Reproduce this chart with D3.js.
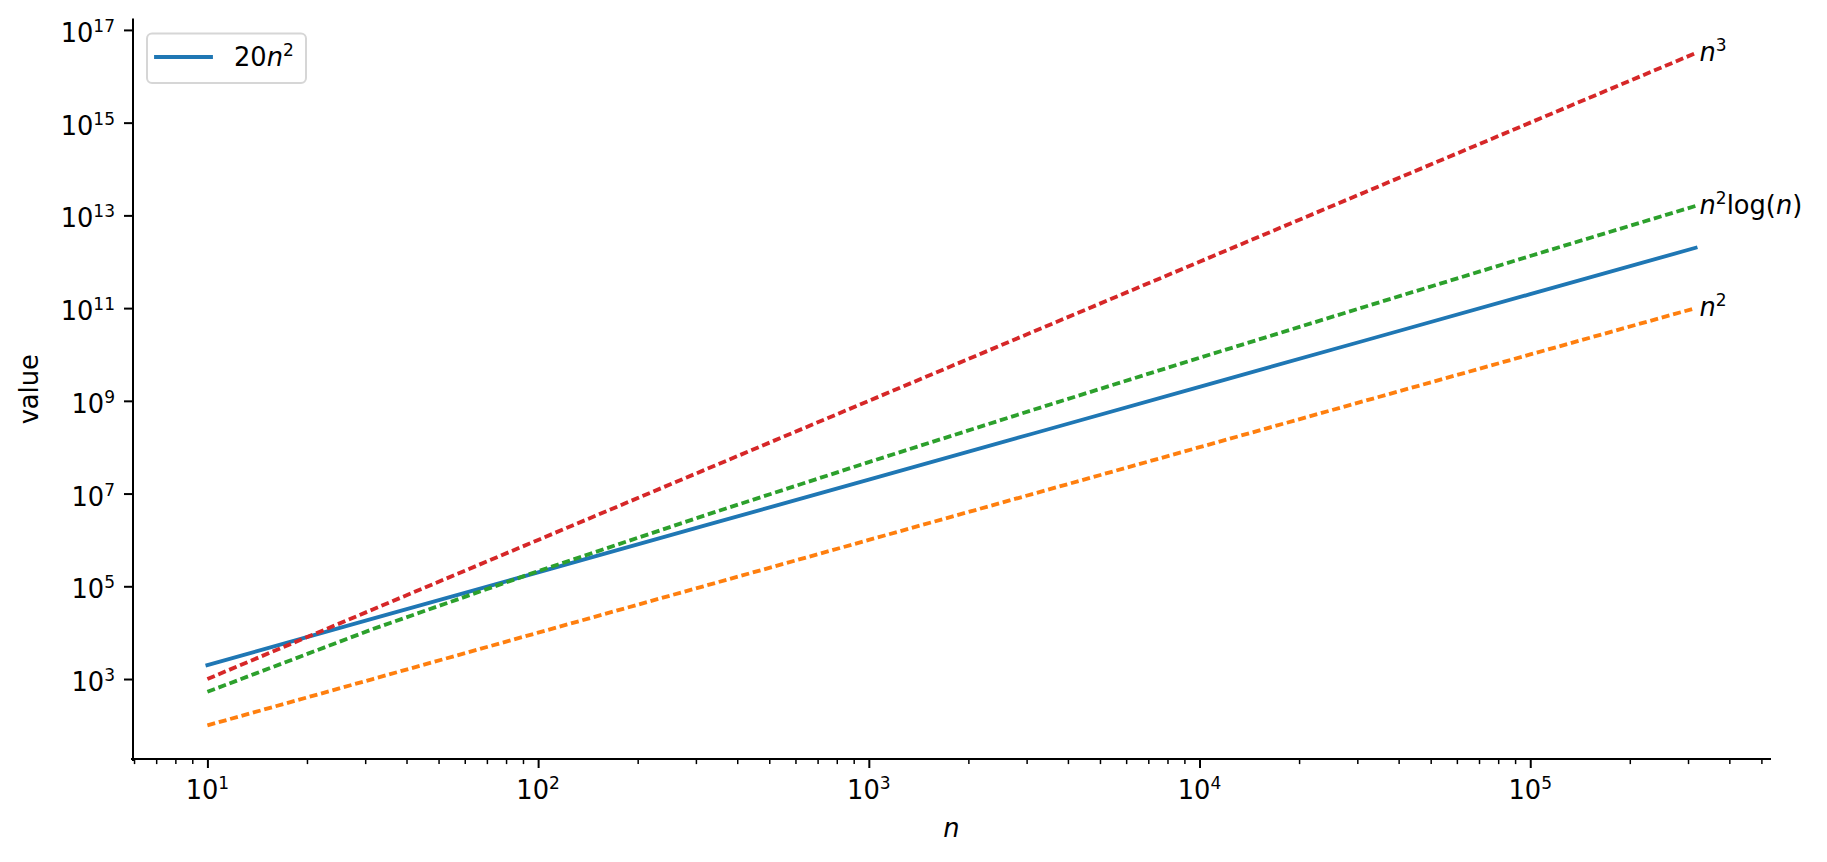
<!DOCTYPE html>
<html>
<head>
<meta charset="utf-8">
<script src="https://cdn.jsdelivr.net/npm/d3@7"></script>
<style>
  html, body { margin: 0; padding: 0; background: #fff; }
  svg { display: block; font-family: "DejaVu Sans", sans-serif; }
  .it { font-style: italic; }
</style>
</head>
<body>
<svg id="chart" width="1827" height="862"></svg>
<script>
// ---- data ----
const nValues     = [10, 31.62, 100, 316.2, 1000, 3162, 1e4, 31623, 1e5, 316228];
const series20n2  = [2000, 2.0e4, 2.0e5, 2.0e6, 2.0e7, 2.0e8, 2.0e9, 2.0e10, 2.0e11, 2.0e12];
const seriesN2    = [100, 1000, 1e4, 1e5, 1e6, 1e7, 1e8, 1e9, 1e10, 1e11];
const seriesN2Log = [530, 11930, 2.12e5, 3.31e6, 4.77e7, 6.50e8, 8.48e9, 1.07e11, 1.33e12, 1.60e13];
const seriesN3    = [1000, 31623, 1e6, 3.16e7, 1e9, 3.16e10, 1e12, 3.16e13, 1e15, 3.16e16];
const xMajorExps  = [1, 2, 3, 4, 5];
const yMajorExps  = [3, 5, 7, 9, 11, 13, 15, 17];

const seriesList = [
  { key: "20n2",  values: series20n2,  color: "#1f77b4", dashed: false, label: null },
  { key: "n2",    values: seriesN2,    color: "#ff7f0e", dashed: true,  label: [["n", true], ["2", false, true]] },
  { key: "n2log", values: seriesN2Log, color: "#2ca02c", dashed: true,  label: [["n", true], ["2", false, true], ["log(", false], ["n", true], [")", false]] },
  { key: "n3",    values: seriesN3,    color: "#d62728", dashed: true,  label: [["n", true], ["3", false, true]] }
];

// ---- layout ----
const W = 1827, H = 862;
const plot = { left: 133, right: 1770, top: 19.5, bottom: 759 };
const FS = 25.7, SUP = 17, SUPDY = 10;

const svg = d3.select("#chart");

function logMargin(ext, frac) {
  const a = Math.log10(ext[0]), b = Math.log10(ext[1]);
  const m = (b - a) * frac;
  return [Math.pow(10, a - m), Math.pow(10, b + m)];
}
const allY = seriesList.flatMap(s => s.values);
const x = d3.scaleLog().domain(logMargin(d3.extent(nValues), 0.05)).range([plot.left, plot.right]);
const y = d3.scaleLog().domain(logMargin(d3.extent(allY), 0.05)).range([plot.bottom, plot.top]);

// helper: write mathtext-like label into a text element
function writeMath(textSel, parts) {
  let raised = false;
  parts.forEach(([s, italic, sup]) => {
    const t = textSel.append("tspan").text(s);
    if (italic) t.attr("font-style", "italic");
    if (sup && !raised) { t.attr("dy", -SUPDY).attr("font-size", SUP); raised = true; }
    else if (sup) { t.attr("font-size", SUP); }
    else if (raised) { t.attr("dy", SUPDY); raised = false; }
  });
}

// ---- lines ----
const line = d3.line().x((d, i) => x(nValues[i])).y(d => y(d));
seriesList.forEach(s => {
  svg.append("path")
    .attr("d", line(s.values))
    .attr("fill", "none")
    .attr("stroke", s.color)
    .attr("stroke-width", 3.85)
    .attr("stroke-linejoin", "round")
    .attr("stroke-linecap", s.dashed ? "butt" : "square")
    .attr("stroke-dasharray", s.dashed ? "8 3.8" : null);
});

// ---- end labels ----
seriesList.filter(s => s.label).forEach(s => {
  const last = s.values.length - 1;
  const t = svg.append("text")
    .attr("x", x(nValues[last]) + 4)
    .attr("y", y(s.values[last]) + 8)
    .attr("font-size", FS)
    .attr("fill", "#000");
  writeMath(t, s.label);
});

// ---- axes ----
const xMajors = xMajorExps.map(e => Math.pow(10, e));
const xMinors = x.ticks().filter(v => {
  const l = Math.log10(v);
  return Math.abs(l - Math.round(l)) > 1e-9 && v >= x.domain()[0] && v <= x.domain()[1];
});

const gx = svg.append("g").attr("transform", `translate(0,${plot.bottom})`);
gx.append("g").call(d3.axisBottom(x).tickValues(xMinors).tickSize(5.1).tickSizeOuter(0).tickFormat(""))
  .call(g => g.select(".domain").remove())
  .call(g => g.selectAll("line").attr("stroke", "#000").attr("stroke-width", 1.5));
gx.append("g").call(d3.axisBottom(x).tickValues(xMajors).tickSize(9).tickSizeOuter(0).tickFormat(""))
  .call(g => g.select(".domain").remove())
  .call(g => g.selectAll("line").attr("stroke", "#000").attr("stroke-width", 2));
xMajorExps.forEach(e => {
  const t = gx.append("text")
    .attr("x", x(Math.pow(10, e)))
    .attr("y", 40)
    .attr("text-anchor", "middle")
    .attr("font-size", FS)
    .attr("fill", "#000");
  writeMath(t, [["10", false], [String(e), false, true]]);
});

const gy = svg.append("g").attr("transform", `translate(${plot.left},0)`);
gy.append("g").call(d3.axisLeft(y).tickValues(yMajorExps.map(e => Math.pow(10, e))).tickSize(9).tickSizeOuter(0).tickFormat(""))
  .call(g => g.select(".domain").remove())
  .call(g => g.selectAll("line").attr("stroke", "#000").attr("stroke-width", 2));
yMajorExps.forEach(e => {
  const t = gy.append("text")
    .attr("x", -18)
    .attr("y", y(Math.pow(10, e)) + 12)
    .attr("text-anchor", "end")
    .attr("font-size", FS)
    .attr("fill", "#000");
  writeMath(t, [["10", false], [String(e), false, true]]);
});

// spines
svg.append("line").attr("x1", plot.left).attr("x2", plot.left).attr("y1", plot.top).attr("y2", plot.bottom + 1)
  .attr("stroke", "#000").attr("stroke-width", 2).attr("stroke-linecap", "square");
svg.append("line").attr("x1", plot.left - 1).attr("x2", plot.right).attr("y1", plot.bottom).attr("y2", plot.bottom)
  .attr("stroke", "#000").attr("stroke-width", 2).attr("stroke-linecap", "square");

// axis titles
svg.append("text")
  .attr("x", (plot.left + plot.right) / 2)
  .attr("y", 837)
  .attr("text-anchor", "middle")
  .attr("font-size", FS)
  .attr("font-style", "italic")
  .text("n");
svg.append("text")
  .attr("transform", `translate(37.5,${(plot.top + plot.bottom) / 2}) rotate(-90)`)
  .attr("text-anchor", "middle")
  .attr("font-size", FS)
  .text("value");

// ---- legend ----
const lg = svg.append("g");
lg.append("rect")
  .attr("x", 147).attr("y", 33.5).attr("width", 159).attr("height", 49.5)
  .attr("rx", 5).attr("ry", 5)
  .attr("fill", "#fff").attr("fill-opacity", 0.8)
  .attr("stroke", "#d6d6d6").attr("stroke-width", 2);
lg.append("line")
  .attr("x1", 156).attr("x2", 211).attr("y1", 57).attr("y2", 57)
  .attr("stroke", seriesList[0].color).attr("stroke-width", 3.85).attr("stroke-linecap", "square");
const lt = lg.append("text").attr("x", 234).attr("y", 66).attr("font-size", FS).attr("fill", "#000");
writeMath(lt, [["20", false], ["n", true], ["2", false, true]]);
</script>
</body>
</html>
